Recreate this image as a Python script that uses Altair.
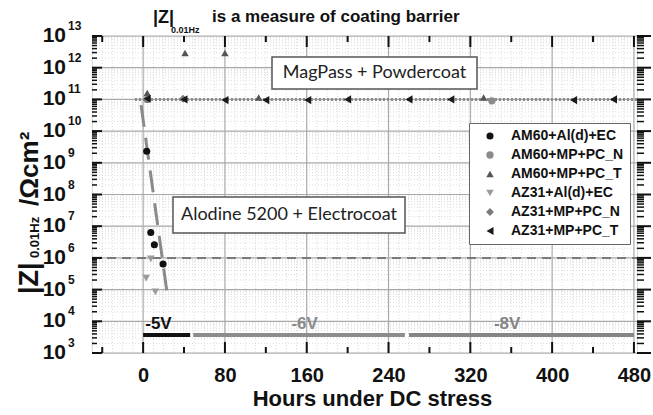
import altair as alt
import pandas as pd
import numpy as np

# ---------------- data ----------------
series_names = ["AM60+Al(d)+EC", "AM60+MP+PC_N", "AM60+MP+PC_T",
                "AZ31+Al(d)+EC", "AZ31+MP+PC_N", "AZ31+MP+PC_T"]
series_shapes = ["circle", "circle", "triangle-up", "triangle-down", "diamond", "triangle-left"]
series_colors = ["#111111", "#8a8a8a", "#555555", "#9c9c9c", "#7a7a7a", "#1a1a1a"]
series_sizes = [50, 65, 110, 90, 80, 100]

am60_ald_hours = [3.5, 7.5, 11, 19.5]
am60_ald_z = [2.3e9, 6.3e6, 2.6e6, 6.4e5]
am60_mpn_hours = [4, 341]
am60_mpn_z = [1.0e11, 0.9e11]
am60_mpt_hours = [4, 41, 80, 113, 333]
am60_mpt_z = [1.6e11, 2.9e12, 2.9e12, 1.15e11, 1.15e11]
az31_ald_hours = [3, 7.5, 12]
az31_ald_z = [2.3e5, 9.3e5, 8.5e4]
az31_mpn_hours = [4, 39]
az31_mpn_z = [1.0e11, 1.05e11]
az31_mpt_hours = [4, 40, 80, 120, 161, 200, 260, 301, 421, 460]
az31_mpt_z = [1.05e11, 1.0e11, 0.95e11, 0.95e11, 0.95e11, 1.0e11, 1.0e11, 1.0e11, 0.95e11, 1.0e11]

# reference levels
mp_level = [1e11]
mp_span = [-8, 483]
ec_level = [1e6]
ec_span = [-50, 483]
ec_trend_hours = [-2, 24.5]
ec_trend_z = [6.6e10, 4.4e4]

# voltage steps
volt_labels = ["-5V", "-6V", "-8V"]
volt_start = [0, 49, 260]
volt_end = [46, 256, 480]
volt_label_hours = [15, 158, 356]
volt_colors = ["#111111", "#8c8c8c", "#858585"]
volt_bar_level = 3.7e3
volt_label_level = 8.0e3

# axes
x_major = [0, 80, 160, 240, 320, 400, 480]
x_minor = [-40, 40, 120, 200, 280, 360, 440]
x_fine = [h for h in range(-50, 484, 10) if h % 80 != 0]
y_major = [1e3, 1e4, 1e5, 1e6, 1e7, 1e8, 1e9, 1e10, 1e11, 1e12, 1e13]
y_minor = [m * d for d in y_major[:-1] for m in range(2, 10)]

# ---------------- chart ----------------
W, H = 545, 317
FONT = "Liberation Sans"
xs = alt.Scale(domain=[-50, 483], nice=False, zero=False)
ys = alt.Scale(type="log", domain=[1e3, 1e13], nice=False)

rows = []
for name, hh, zz in [(series_names[0], am60_ald_hours, am60_ald_z),
                     (series_names[1], am60_mpn_hours, am60_mpn_z),
                     (series_names[2], am60_mpt_hours, am60_mpt_z),
                     (series_names[3], az31_ald_hours, az31_ald_z),
                     (series_names[4], az31_mpn_hours, az31_mpn_z),
                     (series_names[5], az31_mpt_hours, az31_mpt_z)]:
    for h, z in zip(hh, zz):
        rows.append({"hours": h, "z": z, "series": name})
pts = pd.DataFrame(rows)

legend = alt.Legend(orient="none", legendX=377, legendY=87, title=None, padding=6,
                    strokeColor="#666666", fillColor="white", labelFont=FONT,
                    labelFontSize=14, labelFontWeight="bold", labelColor="#111",
                    symbolSize=75, rowPadding=5, symbolOffset=8, labelOffset=14,
                    symbolStrokeWidth=0)

points = alt.Chart(pts).mark_point(filled=True, opacity=1).encode(
    x=alt.X("hours:Q", scale=xs,
            axis=alt.Axis(values=x_major, grid=False,
                          ticks=False, domain=False, labelFont=FONT, labelFontSize=20,
                          labelFontWeight="bold", labelColor="#111", labelPadding=12,
                          title="Hours under DC stress", titleFont=FONT, titleFontSize=22,
                          titleFontWeight="bold", titleColor="#111", titlePadding=3,
                          titleX=280)),
    y=alt.Y("z:Q", scale=ys,
            axis=alt.Axis(values=y_major, grid=False,
                          ticks=False, labels=False, domain=False, title=None)),
    color=alt.Color("series:N", scale=alt.Scale(domain=series_names, range=series_colors), legend=legend),
    shape=alt.Shape("series:N", scale=alt.Scale(domain=series_names, range=series_shapes), legend=legend),
    size=alt.Size("series:N", scale=alt.Scale(domain=series_names, range=series_sizes), legend=None),
)

fine_x = alt.Chart(pd.DataFrame({"h": x_fine})).mark_rule(color="#dcdcdc", strokeDash=[1, 2], strokeWidth=1).encode(
    x=alt.X("h:Q", scale=xs))
fine_y = alt.Chart(pd.DataFrame({"v": y_minor})).mark_rule(color="#dcdcdc", strokeDash=[1, 2], strokeWidth=1).encode(
    y=alt.Y("v:Q", scale=ys))
grid_x = alt.Chart(pd.DataFrame({"h": x_major})).mark_rule(color="#a9a9a9", strokeWidth=1.2).encode(
    x=alt.X("h:Q", scale=xs))
grid_y = alt.Chart(pd.DataFrame({"v": y_major})).mark_rule(color="#a9a9a9", strokeWidth=1.2).encode(
    y=alt.Y("v:Q", scale=ys))

mp_line = alt.Chart(pd.DataFrame({"a": [mp_span[0]], "b": [mp_span[1]], "v": mp_level})).mark_rule(
    color="#8a8a8a", strokeWidth=3, strokeDash=[2, 2]).encode(
    x=alt.X("a:Q", scale=xs), x2="b:Q", y=alt.Y("v:Q", scale=ys))
ec_line = alt.Chart(pd.DataFrame({"a": [ec_span[0]], "b": [ec_span[1]], "v": ec_level})).mark_rule(
    color="#7a7a7a", strokeWidth=2, strokeDash=[9, 6]).encode(
    x=alt.X("a:Q", scale=xs), x2="b:Q", y=alt.Y("v:Q", scale=ys))
trend = alt.Chart(pd.DataFrame({"h": ec_trend_hours, "z": ec_trend_z})).mark_line(
    color="#8a8a8a", strokeWidth=3, strokeDash=[22, 11]).encode(
    x=alt.X("h:Q", scale=xs), y=alt.Y("z:Q", scale=ys))

volt_layers = []
for lab, a, b, lh, col in zip(volt_labels, volt_start, volt_end, volt_label_hours, volt_colors):
    d = pd.DataFrame({"lab": [lab], "a": [a], "b": [b], "lh": [lh],
                      "bar": [volt_bar_level], "lv": [volt_label_level]})
    volt_layers.append(alt.Chart(d).mark_rule(strokeWidth=4, color=col).encode(
        x=alt.X("a:Q", scale=xs), x2="b:Q", y=alt.Y("bar:Q", scale=ys)))
    volt_layers.append(alt.Chart(d).mark_text(font=FONT, fontSize=17, fontWeight="bold",
                                              baseline="middle", color=col).encode(
        x=alt.X("lh:Q", scale=xs), y=alt.Y("lv:Q", scale=ys), text="lab:N"))

one = pd.DataFrame({"k": [0]})


def box(x1, x2, y1, y2):
    return alt.Chart(one).mark_rect(fill="white", stroke="#555555", strokeWidth=1.5).encode(
        x=alt.value(x1), x2=alt.value(x2), y=alt.value(y1), y2=alt.value(y2))


def txt(text, x, y, size, weight="bold", font=FONT, color="#111111", angle=0, align="left"):
    return alt.Chart(pd.DataFrame({"t": [text]})).mark_text(
        font=font, fontSize=size, fontWeight=weight, color=color, angle=angle,
        align=align, baseline="middle").encode(x=alt.value(x), y=alt.value(y), text="t:N")


def vrule(df, field, x1, x2, w=2):
    return alt.Chart(df).mark_rule(color="#111111", strokeWidth=w).encode(
        y=alt.Y(field + ":Q", scale=ys), x=alt.value(x1), x2=alt.value(x2))


def hrule(df, field, y1, y2, w=2):
    return alt.Chart(df).mark_rule(color="#111111", strokeWidth=w).encode(
        x=alt.X(field + ":Q", scale=xs), y=alt.value(y1), y2=alt.value(y2))


xmaj = pd.DataFrame({"h": x_major})
xmin = pd.DataFrame({"h": x_minor})
ymaj = pd.DataFrame({"v": y_major, "e": [str(int(round(np.log10(v)))) for v in y_major]})
ymin = pd.DataFrame({"v": y_minor})

ticks = [
    hrule(xmaj, "h", H - 11, H), hrule(xmin, "h", H - 6, H),
    hrule(xmaj, "h", 0, 11), hrule(xmin, "h", 0, 6),
    vrule(ymaj, "v", 0, 10), vrule(ymin, "v", 0, 5, 1.5),
    vrule(ymaj, "v", W, W + 14), vrule(ymin, "v", W, W + 7, 1.5),
]

ylab10 = alt.Chart(ymaj).mark_text(font=FONT, fontSize=21, fontWeight="bold", color="#111",
                                   align="right", baseline="middle", text="10").encode(
    x=alt.value(-26), y=alt.Y("v:Q", scale=ys))
ylabexp = alt.Chart(ymaj).mark_text(font=FONT, fontSize=12, fontWeight="bold", color="#111",
                                    align="left", baseline="middle", dy=-10).encode(
    x=alt.value(-24), y=alt.Y("v:Q", scale=ys), text="e:N")

annot = [
    box(180, 385, 21, 53),
    txt("MagPass + Powdercoat", 282.5, 37, 18, weight="normal", font="Lato", color="#222", align="center"),
    box(81, 313, 161, 197),
    txt("Alodine 5200 + Electrocoat", 197, 179, 18, weight="normal", font="Lato", color="#222", align="center"),
    # top title
    txt("|Z|", 61, -18, 18),
    txt("0.01Hz", 79, -6, 9),
    txt("is a measure of coating barrier", 120, -19, 17),
    # y title (rotated)
    txt("|Z|", -62, 258, 27, angle=270),
    txt("0.01Hz", -57, 222, 13, angle=270),
    txt("/Ωcm²", -62, 170, 26, angle=270),
]

chart = alt.layer(
    fine_x, fine_y, grid_x, grid_y, mp_line, ec_line, trend, *volt_layers, points,
    *annot, *ticks, ylab10, ylabexp
).properties(
    width=W, height=H,
    autosize=alt.AutoSizeParams(type="none"),
    padding={"left": 92, "top": 36, "right": 16, "bottom": 62},
).configure_view(stroke="#111111", strokeWidth=2).configure(background="white")

chart.save("out.html", embed_options={"renderer": "svg", "actions": False})
